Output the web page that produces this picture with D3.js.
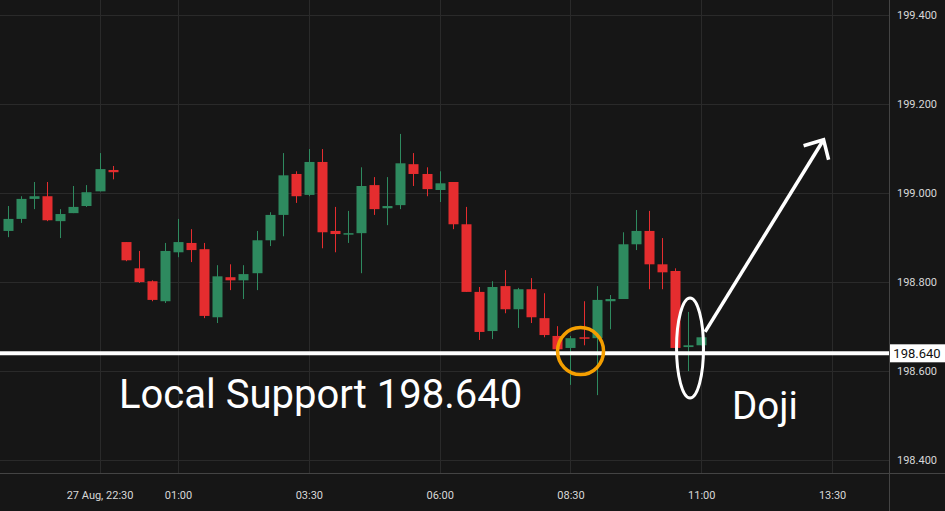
<!DOCTYPE html>
<html><head><meta charset="utf-8">
<script src="https://cdn.jsdelivr.net/npm/d3@7/dist/d3.min.js"></script>
<style>html,body{margin:0;padding:0;background:#161616;overflow:hidden}</style>
</head><body><svg id="c" width="945" height="511"></svg>
<script>
// OHLC data (15-minute candles), index order
const opens  = [198.915,198.942,198.987,198.993,198.937,198.955,198.971,199.004,199.052,198.890,198.831,198.802,198.757,198.867,198.888,198.874,198.721,198.811,198.804,198.820,198.894,198.951,199.043,198.996,199.070,198.915,198.908,198.910,199.018,198.966,198.973,199.065,199.043,199.007,199.025,198.930,198.778,198.690,198.791,198.739,198.784,198.719,198.679,198.652,198.676,198.674,198.757,198.762,198.885,198.915,198.840,198.825,198.654,198.658];
const highs  = [198.971,198.993,199.025,199.025,198.964,199.016,199.018,199.090,199.061,198.890,198.870,198.804,198.888,198.942,198.919,198.888,198.838,198.840,198.838,198.915,198.957,199.090,199.049,199.099,199.099,198.969,198.960,199.058,199.036,199.036,199.133,199.090,199.058,199.049,199.025,198.969,198.789,198.802,198.827,198.787,198.809,198.775,198.701,198.679,198.757,198.791,198.771,198.912,198.962,198.960,198.899,198.831,198.733,198.676];
const lows   = [198.901,198.933,198.964,198.937,198.899,198.955,198.969,199.004,199.031,198.847,198.798,198.757,198.753,198.856,198.845,198.719,198.708,198.782,198.762,198.782,198.881,198.903,198.978,198.993,198.876,198.867,198.888,198.820,198.951,198.928,198.964,199.016,198.993,198.980,198.919,198.778,198.670,198.672,198.730,198.697,198.708,198.676,198.649,198.569,198.658,198.546,198.694,198.762,198.872,198.784,198.784,198.647,198.600,198.658];
const closes = [198.942,198.987,198.993,198.939,198.953,198.969,199.002,199.054,199.047,198.849,198.800,198.760,198.870,198.890,198.872,198.724,198.813,198.804,198.818,198.894,198.951,199.040,198.993,199.070,198.912,198.908,198.910,199.016,198.964,198.971,199.067,199.043,199.009,199.022,198.930,198.778,198.688,198.789,198.739,198.784,198.721,198.681,198.649,198.674,198.674,198.760,198.762,198.885,198.915,198.840,198.822,198.652,198.658,198.676];

const yTicks = [198.4, 198.6, 198.8, 199.0, 199.2, 199.4];
const xTickIndex = [7, 13, 23, 33, 43, 53, 63];
const xTickLabels = ["27 Aug, 22:30", "01:00", "03:30", "06:00", "08:30", "11:00", "13:30"];
const supportLevel = 198.640;
const supportText = "Local Support 198.640";
const dojiText = "Doji";

const W = 945, H = 511, plotR = 889, plotB = 473;
const svg = d3.select("#c");
svg.append("rect").attr("width", W).attr("height", H).attr("fill", "#161616");

const x = d3.scaleLinear().domain([-0.61, 67.35]).range([0, plotR]);
const y = d3.scaleLinear().domain([198.371, 199.434]).range([plotB, 0]);

const gridColor = "#2a2a2a";
// grid
svg.append("g").selectAll("line").data(yTicks).join("line")
  .attr("x1", 0).attr("x2", plotR).attr("y1", d => Math.round(y(d)) + 0.5).attr("y2", d => Math.round(y(d)) + 0.5)
  .attr("stroke", gridColor).attr("stroke-width", 1);
svg.append("g").selectAll("line").data(xTickIndex).join("line")
  .attr("x1", d => Math.round(x(d)) + 0.5).attr("x2", d => Math.round(x(d)) + 0.5).attr("y1", 0).attr("y2", plotB)
  .attr("stroke", gridColor).attr("stroke-width", 1);

// axes borders
svg.append("line").attr("x1", 0).attr("x2", W).attr("y1", plotB + 0.5).attr("y2", plotB + 0.5).attr("stroke", "#444").attr("stroke-width", 1);
svg.append("line").attr("x1", plotR + 0.5).attr("x2", plotR + 0.5).attr("y1", 0).attr("y2", H).attr("stroke", "#444").attr("stroke-width", 1);

// y axis labels
const yAxis = d3.axisRight(y).tickValues(yTicks).tickFormat(d3.format(".3f")).tickSize(0).tickPadding(8);
const ya = svg.append("g").attr("transform", `translate(${plotR},0)`).call(yAxis);
ya.select(".domain").remove();
ya.selectAll("text").attr("fill", "#d8d8d8").style("font-family", "Roboto, 'DejaVu Sans', sans-serif").style("font-size", "11px");

// x axis labels
const xAxis = d3.axisBottom(x).tickValues(xTickIndex).tickFormat((d, i) => xTickLabels[i]).tickSize(0).tickPadding(18);
const xa = svg.append("g").attr("transform", `translate(0,${plotB})`).call(xAxis);
xa.select(".domain").remove();
xa.selectAll("text").attr("fill", "#d8d8d8").style("font-family", "Roboto, 'DejaVu Sans', sans-serif").style("font-size", "11px");

// candles
const data = opens.map((o, i) => ({ i, o, h: highs[i], l: lows[i], c: closes[i] }));
const green = "#2e8a5f", red = "#e52d2f";
const bw = 10;
const cg = svg.append("g");
cg.selectAll("line.wick").data(data).join("line")
  .attr("x1", d => Math.round(x(d.i)) + 0.5).attr("x2", d => Math.round(x(d.i)) + 0.5)
  .attr("y1", d => y(d.h)).attr("y2", d => y(d.l))
  .attr("stroke", d => d.c >= d.o ? green : red).attr("stroke-width", 1);
cg.selectAll("rect.body").data(data).join("rect")
  .attr("x", d => Math.round(x(d.i)) - bw / 2 + 0.5).attr("width", bw)
  .attr("y", d => y(Math.max(d.o, d.c)))
  .attr("height", d => Math.max(1.5, Math.abs(y(d.o) - y(d.c))))
  .attr("fill", d => d.c >= d.o ? green : red);

// support line
svg.append("line").attr("x1", 0).attr("x2", plotR).attr("y1", y(supportLevel)).attr("y2", y(supportLevel))
  .attr("stroke", "#fff").attr("stroke-width", 4);
// price label on axis
svg.append("rect").attr("x", plotR + 1).attr("y", y(supportLevel) - 9).attr("width", W - plotR - 1).attr("height", 18).attr("fill", "#fff");
svg.append("text").attr("x", 917).attr("y", y(supportLevel) + 5).attr("text-anchor", "middle")
  .attr("fill", "#111").style("font-family", "Roboto, 'DejaVu Sans', sans-serif").style("font-size", "13px").text("198.640");

// orange circle annotation
svg.append("ellipse").attr("cx", x(43.77)).attr("cy", y(198.645)).attr("rx", 23).attr("ry", 23.5)
  .attr("fill", "none").attr("stroke", "#f59f00").attr("stroke-width", 3.5);
// doji ellipse
svg.append("ellipse").attr("cx", x(52.14)).attr("cy", y(198.652)).attr("rx", 13.5).attr("ry", 50)
  .attr("fill", "none").attr("stroke", "#fff").attr("stroke-width", 3);

// arrow
const ax1 = x(53.29), ay1 = y(198.688), ax2 = x(62.35), ay2 = y(199.12);
svg.append("line").attr("x1", ax1).attr("y1", ay1).attr("x2", ax2).attr("y2", ay2)
  .attr("stroke", "#fff").attr("stroke-width", 3.5).attr("stroke-linecap", "butt");
svg.append("polyline").attr("points", `${ax2 - 20},${ay2 + 6} ${ax2},${ay2} ${ax2 + 5},${ay2 + 20}`)
  .attr("fill", "none").attr("stroke", "#fff").attr("stroke-width", 3.5).attr("stroke-linejoin", "miter");

// texts
svg.append("text").attr("x", 119).attr("y", 408).attr("fill", "#fff")
  .style("font-family", "Roboto, sans-serif").style("font-size", "40px").text(supportText);
svg.append("text").attr("x", 732).attr("y", 419).attr("fill", "#fff")
  .style("font-family", "Roboto, sans-serif").style("font-size", "38.5px").text(dojiText);
</script></body></html>
